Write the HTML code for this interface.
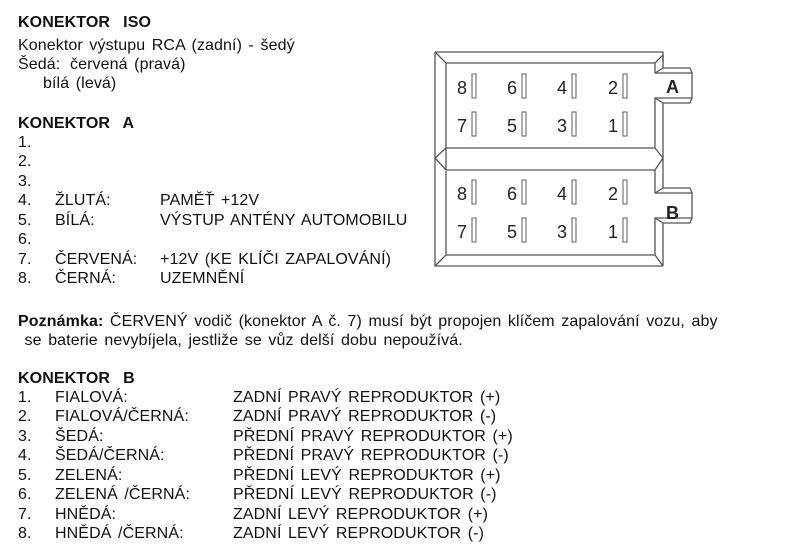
<!DOCTYPE html>
<html><head><meta charset="utf-8"><style>
body{margin:0;background:#fff;width:800px;height:558px;position:relative;overflow:hidden;font-family:"Liberation Sans",Arial,sans-serif;color:#111}
.t{position:absolute;font-size:16px;line-height:18px;white-space:pre;word-spacing:2px;letter-spacing:0.1px}
b{font-weight:bold}
</style></head><body>
<div class="t" style="left:18px;top:14px"><b>KONEKTOR  ISO</b></div>
<div class="t" style="left:18px;top:37px">Konektor výstupu RCA (zadní) - šedý</div>
<div class="t" style="left:18px;top:56px">Šedá:</div><div class="t" style="left:70px;top:56px">červená (pravá)</div>
<div class="t" style="left:43px;top:75px">bílá (levá)</div>
<div class="t" style="left:18px;top:115px"><b>KONEKTOR  A</b></div>
<div class="t" style="left:18px;top:134px">1.</div>
<div class="t" style="left:18px;top:153px">2.</div>
<div class="t" style="left:18px;top:173px">3.</div>
<div class="t" style="left:18px;top:192px">4.</div><div class="t" style="left:55px;top:192px">ŽLUTÁ:</div><div class="t" style="left:160px;top:192px">PAMĚŤ +12V</div>
<div class="t" style="left:18px;top:212px">5.</div><div class="t" style="left:55px;top:212px">BÍLÁ:</div><div class="t" style="left:160px;top:212px">VÝSTUP ANTÉNY AUTOMOBILU</div>
<div class="t" style="left:18px;top:231px">6.</div>
<div class="t" style="left:18px;top:251px">7.</div><div class="t" style="left:55px;top:251px">ČERVENÁ:</div><div class="t" style="left:160px;top:251px">+12V (KE KLÍČI ZAPALOVÁNÍ)</div>
<div class="t" style="left:18px;top:270px">8.</div><div class="t" style="left:55px;top:270px">ČERNÁ:</div><div class="t" style="left:160px;top:270px">UZEMNĚNÍ</div>
<div class="t" style="left:18px;top:313px"><b>Poznámka:</b> ČERVENÝ vodič (konektor A č. 7) musí být propojen klíčem zapalování vozu, aby</div>
<div class="t" style="left:18px;top:332px"> se baterie nevybíjela, jestliže se vůz delší dobu nepoužívá.</div>
<div class="t" style="left:18px;top:370px"><b>KONEKTOR  B</b></div>
<div class="t" style="left:18px;top:389px">1.</div><div class="t" style="left:55px;top:389px">FIALOVÁ:</div><div class="t" style="left:233px;top:389px">ZADNÍ PRAVÝ REPRODUKTOR (+)</div>
<div class="t" style="left:18px;top:408px">2.</div><div class="t" style="left:55px;top:408px">FIALOVÁ/ČERNÁ:</div><div class="t" style="left:233px;top:408px">ZADNÍ PRAVÝ REPRODUKTOR (-)</div>
<div class="t" style="left:18px;top:428px">3.</div><div class="t" style="left:55px;top:428px">ŠEDÁ:</div><div class="t" style="left:233px;top:428px">PŘEDNÍ PRAVÝ REPRODUKTOR (+)</div>
<div class="t" style="left:18px;top:447px">4.</div><div class="t" style="left:55px;top:447px">ŠEDÁ/ČERNÁ:</div><div class="t" style="left:233px;top:447px">PŘEDNÍ PRAVÝ REPRODUKTOR (-)</div>
<div class="t" style="left:18px;top:467px">5.</div><div class="t" style="left:55px;top:467px">ZELENÁ:</div><div class="t" style="left:233px;top:467px">PŘEDNÍ LEVÝ REPRODUKTOR (+)</div>
<div class="t" style="left:18px;top:486px">6.</div><div class="t" style="left:55px;top:486px">ZELENÁ /ČERNÁ:</div><div class="t" style="left:233px;top:486px">PŘEDNÍ LEVÝ REPRODUKTOR (-)</div>
<div class="t" style="left:18px;top:506px">7.</div><div class="t" style="left:55px;top:506px">HNĚDÁ:</div><div class="t" style="left:233px;top:506px">ZADNÍ LEVÝ REPRODUKTOR (+)</div>
<div class="t" style="left:18px;top:525px">8.</div><div class="t" style="left:55px;top:525px">HNĚDÁ /ČERNÁ:</div><div class="t" style="left:233px;top:525px">ZADNÍ LEVÝ REPRODUKTOR (-)</div>

<svg width="800" height="558" style="position:absolute;left:0;top:0" xmlns="http://www.w3.org/2000/svg">
<g fill="none" stroke="#555" stroke-width="1.3">
<path d="M435 52 L663 52 L663 62 M435 52 L435 266 L663 266"/>
<path d="M435 52 L446 63 L655 63 L663 55"/>
<path d="M435 266 L446 255 L446 171 M446 63 L446 148"/>
<path d="M435 158 L446 148 L655 148 L663 158 L655 170 L446 170 L435 158"/>
<path d="M446 148 L446 170"/>
<path d="M655 63 L655 73 L692 73 L692 98 L655 98 L655 148"/>
<path d="M663 55 L663 68 L655 73 M692 73 L690 68 L663 68 M692 98 L690 103 L663 103 L663 158 M655 98 L663 103"/>
<path d="M655 170 L655 193 L692 193 L692 218 L655 218 L655 255 L446 255"/>
<path d="M663 158 L663 188 L655 193 M692 193 L690 188 L663 188 M692 218 L690 223 L663 223 L663 266 M655 218 L663 223 M655 255 L663 266"/>
</g>
<g font-family="Liberation Sans,Arial,sans-serif" font-size="18" fill="#222">
<text x="457" y="94">8</text><text x="507" y="94">6</text><text x="557" y="94">4</text><text x="608" y="94">2</text>
<text x="457" y="132">7</text><text x="507" y="132">5</text><text x="557" y="132">3</text><text x="608" y="132">1</text>
<text x="457" y="200">8</text><text x="507" y="200">6</text><text x="557" y="200">4</text><text x="608" y="200">2</text>
<text x="457" y="238">7</text><text x="507" y="238">5</text><text x="557" y="238">3</text><text x="608" y="238">1</text>
<text x="666" y="93" font-weight="bold" font-size="18">A</text>
<text x="666" y="219" font-weight="bold" font-size="18">B</text>
</g>
<g fill="#fff" stroke="#777" stroke-width="1.2">
<rect x="472" y="74" width="4" height="24"/><rect x="522" y="74" width="4" height="24"/><rect x="572" y="74" width="4" height="24"/><rect x="623" y="74" width="4" height="24"/>
<rect x="472" y="112" width="4" height="24"/><rect x="522" y="112" width="4" height="24"/><rect x="572" y="112" width="4" height="24"/><rect x="623" y="112" width="4" height="24"/>
<rect x="472" y="180" width="4" height="24"/><rect x="522" y="180" width="4" height="24"/><rect x="572" y="180" width="4" height="24"/><rect x="623" y="180" width="4" height="24"/>
<rect x="472" y="218" width="4" height="24"/><rect x="522" y="218" width="4" height="24"/><rect x="572" y="218" width="4" height="24"/><rect x="623" y="218" width="4" height="24"/>
</g>
</svg>
</body></html>
